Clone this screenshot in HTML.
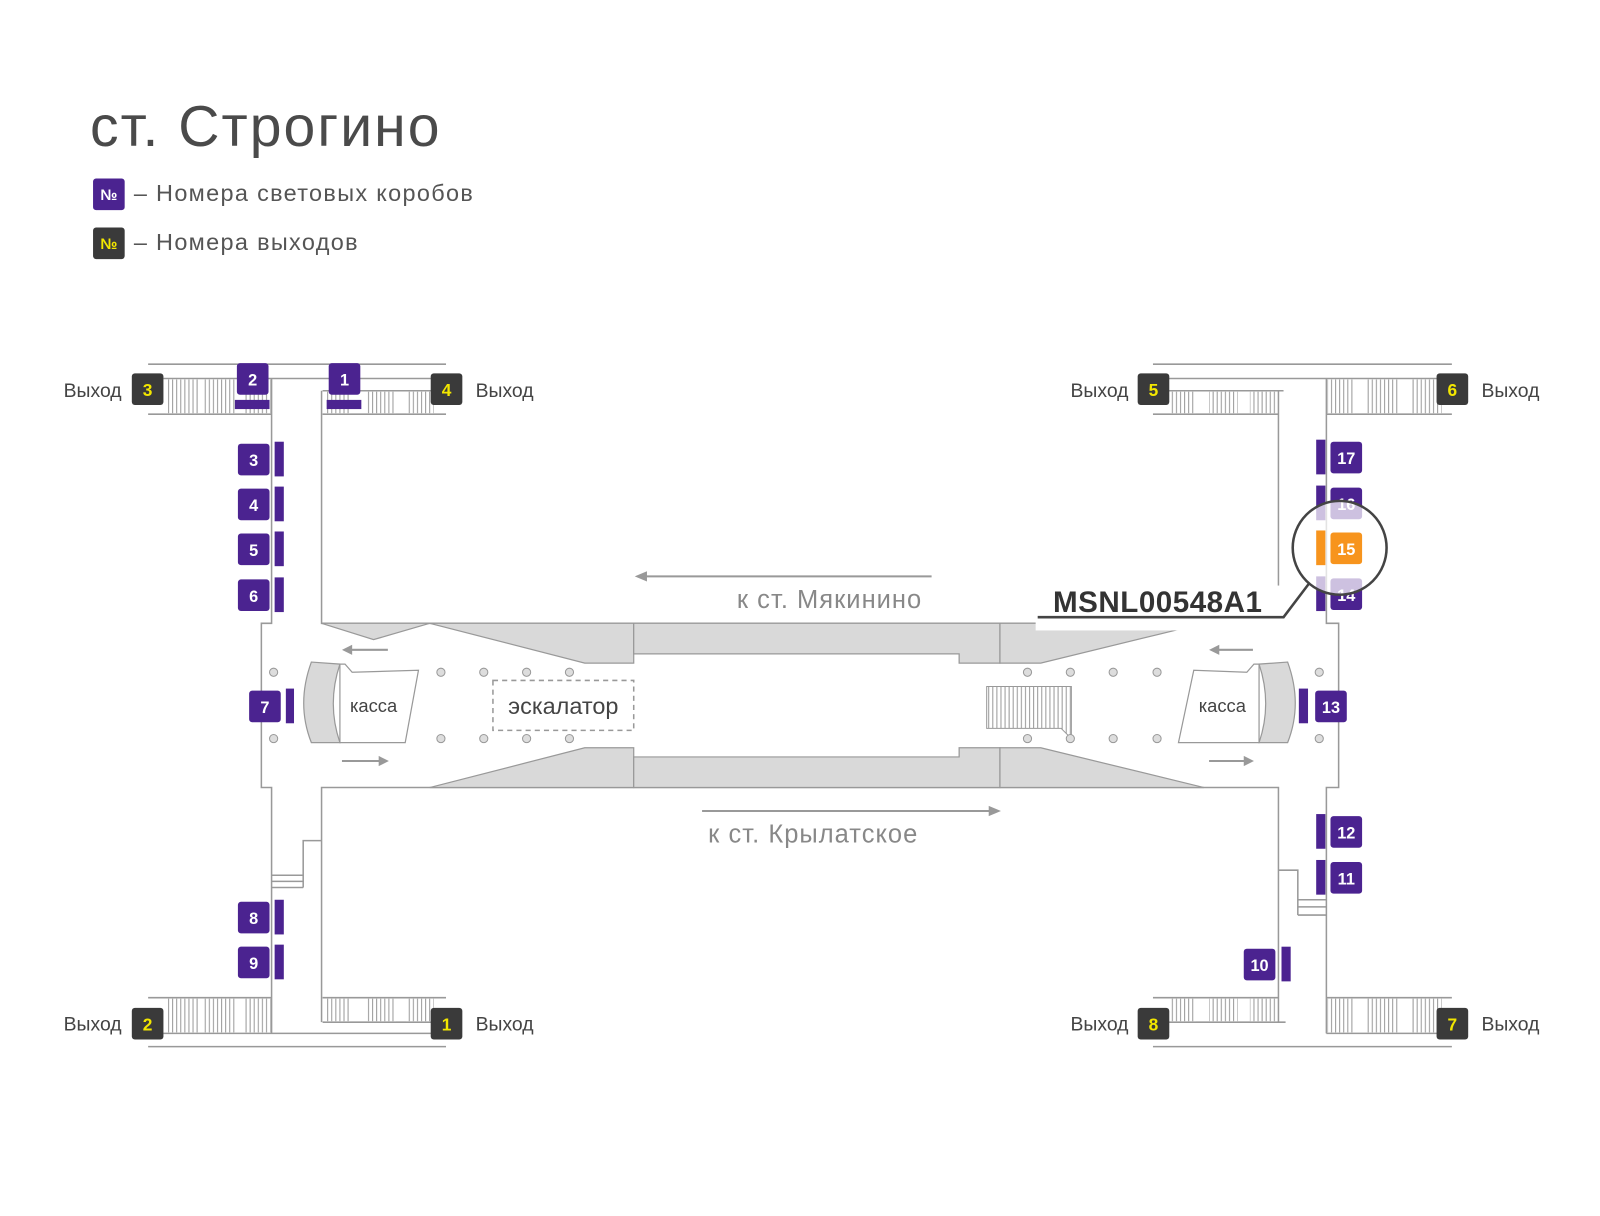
<!DOCTYPE html>
<html><head><meta charset="utf-8"><style>
html,body{margin:0;padding:0;background:#fff;}
svg{display:block;}
text{font-family:"Liberation Sans","DejaVu Sans",sans-serif;}
</style></head><body>
<svg width="1600" height="1216" viewBox="0 0 1568 1192" xmlns="http://www.w3.org/2000/svg">
<defs>
<pattern id="st" width="4" height="10" patternUnits="userSpaceOnUse"><rect width="4" height="10" fill="#fff"/><line x1="1" y1="0" x2="1" y2="10" stroke="#999" stroke-width="1"/></pattern>
</defs>
<rect width="1568" height="1192" fill="#fff"/>
<!-- title -->
<text x="88" y="143" font-size="56" fill="#4a4a4a" letter-spacing="2">ст. Строгино</text>
<rect x="91" y="175" width="31" height="31" rx="3" fill="#4b2390"/>
<text x="106.5" y="196" font-size="15" font-weight="bold" fill="#fff" text-anchor="middle">№</text>
<text x="131" y="197" font-size="23" fill="#555" letter-spacing="1.3">– Номера световых коробов</text>
<rect x="91" y="223" width="31" height="31" rx="3" fill="#3a3a3a"/>
<text x="106.5" y="244" font-size="15" font-weight="bold" fill="#f2e600" text-anchor="middle">№</text>
<text x="131" y="245" font-size="23" fill="#555" letter-spacing="1.3">– Номера выходов</text>

<g stroke="#999" stroke-width="1.5" fill="none">
<line x1="145" y1="357" x2="437" y2="357"/>
<line x1="160" y1="371" x2="437" y2="371"/>
<line x1="316" y1="383" x2="437" y2="383"/>
<line x1="145" y1="406" x2="266" y2="406"/>
<line x1="316" y1="406" x2="437" y2="406"/>
<line x1="145" y1="978" x2="266" y2="978"/>
<line x1="316" y1="978" x2="437" y2="978"/>
<line x1="316" y1="1002" x2="437" y2="1002"/>
<line x1="160" y1="1013" x2="437" y2="1013"/>
<line x1="145" y1="1026" x2="437" y2="1026"/>
<line x1="1130" y1="357" x2="1423" y2="357"/>
<line x1="1145" y1="371" x2="1423" y2="371"/>
<line x1="1130" y1="383" x2="1258" y2="383"/>
<line x1="1130" y1="406" x2="1253" y2="406"/>
<line x1="1300" y1="406" x2="1423" y2="406"/>
<line x1="1130" y1="978" x2="1253" y2="978"/>
<line x1="1300" y1="978" x2="1423" y2="978"/>
<line x1="1130" y1="1002" x2="1260" y2="1002"/>
<line x1="1300" y1="1013" x2="1420" y2="1013"/>
<line x1="1130" y1="1026" x2="1423" y2="1026"/>
<polyline points="266,371 266,611 256,611 256,772 266,772 266,1013"/>
<polyline points="315,383 315,611 1253,611 1253,383"/>
<polyline points="315,1002 315,772 1253,772 1253,1002"/>
<polyline points="1300,371 1300,611 1312,611 1312,772 1300,772 1300,1013"/>
<polyline points="315,824 297,824 297,870"/>
<line x1="266" y1="858" x2="297" y2="858"/><line x1="266" y1="864" x2="297" y2="864"/><line x1="266" y1="870" x2="297" y2="870"/>
<polyline points="1253,853 1272,853 1272,897"/>
<line x1="1272" y1="882" x2="1300" y2="882"/><line x1="1272" y1="889" x2="1300" y2="889"/><line x1="1272" y1="897" x2="1300" y2="897"/>
</g>
<g fill="url(#st)">
<rect x="162" y="372" width="32" height="33"/><rect x="200" y="372" width="30" height="33"/><rect x="238" y="372" width="27" height="33"/>
<rect x="318" y="384" width="25" height="21"/><rect x="360" y="384" width="28" height="21"/><rect x="398" y="384" width="27" height="21"/>
<rect x="162" y="979" width="32" height="33"/><rect x="200" y="979" width="30" height="33"/><rect x="238" y="979" width="27" height="33"/>
<rect x="318" y="979" width="25" height="22"/><rect x="360" y="979" width="28" height="22"/><rect x="398" y="979" width="27" height="22"/>
<rect x="1147" y="384" width="25" height="21"/><rect x="1185" y="384" width="28" height="21"/><rect x="1225" y="384" width="27" height="21"/>
<rect x="1301" y="372" width="27" height="33"/><rect x="1340" y="372" width="30" height="33"/><rect x="1383" y="372" width="30" height="33"/>
<rect x="1147" y="979" width="25" height="22"/><rect x="1185" y="979" width="28" height="22"/><rect x="1225" y="979" width="27" height="22"/>
<rect x="1301" y="979" width="27" height="33"/><rect x="1340" y="979" width="30" height="33"/><rect x="1383" y="979" width="30" height="33"/>
<polygon points="967,673 1050,673 1050,724 1040,714 967,714" stroke="#999" stroke-width="1"/>
</g>
<g fill="#d9d9d9" stroke="#999" stroke-width="1.2">
<polygon points="315,611 366,627 421,611"/>
<polygon points="421,611 621,611 621,650 573,650"/>
<polygon points="621,611 980,611 980,650 940,650 940,641 621,641"/>
<polygon points="980,611 1180,611 1020,650 980,650"/>
<polygon points="421,772 573,733 621,733 621,772"/>
<polygon points="621,742 940,742 940,733 980,733 980,772 621,772"/>
<polygon points="980,733 1020,733 1180,772 980,772"/>
<path d="M305 649 L333 651 Q320 690 333 728 L305 728 Q290 690 305 649Z"/>
<path d="M1262 649 L1234 651 Q1247 690 1234 728 L1262 728 Q1277 690 1262 649Z"/>
</g>
<g fill="#fff" stroke="#999" stroke-width="1.2">
<polygon points="333,651 338,651 345,659 410,657 397,728 333,728 Q320 690 333 651"/>
<polygon points="1234,651 1229,651 1222,659 1170,657 1155,728 1234,728 Q1247 690 1234 651"/>
</g>
<text x="366" y="698" font-size="18" fill="#444" text-anchor="middle">касса</text>
<text x="1198" y="698" font-size="18" fill="#444" text-anchor="middle">касса</text>
<g fill="#ddd" stroke="#999" stroke-width="1">
<circle cx="268" cy="659" r="4"/><circle cx="268" cy="724" r="4"/>
<circle cx="432" cy="659" r="4"/><circle cx="432" cy="724" r="4"/>
<circle cx="474" cy="659" r="4"/><circle cx="474" cy="724" r="4"/>
<circle cx="516" cy="659" r="4"/><circle cx="516" cy="724" r="4"/>
<circle cx="558" cy="659" r="4"/><circle cx="558" cy="724" r="4"/>
<circle cx="1007" cy="659" r="4"/><circle cx="1007" cy="724" r="4"/>
<circle cx="1049" cy="659" r="4"/><circle cx="1049" cy="724" r="4"/>
<circle cx="1091" cy="659" r="4"/><circle cx="1091" cy="724" r="4"/>
<circle cx="1134" cy="659" r="4"/><circle cx="1134" cy="724" r="4"/>
<circle cx="1293" cy="659" r="4"/><circle cx="1293" cy="724" r="4"/>
</g>
<rect x="483" y="667" width="138" height="49" fill="none" stroke="#999" stroke-width="1.5" stroke-dasharray="5,4"/>
<text x="552" y="700" font-size="23" fill="#444" text-anchor="middle">эскалатор</text>
<g stroke="#999" stroke-width="2" fill="#999">
<line x1="340" y1="637" x2="380" y2="637"/><polygon points="335,637 345,632 345,642" stroke="none"/>
<line x1="335" y1="746" x2="375" y2="746"/><polygon points="381,746 371,741 371,751" stroke="none"/>
<line x1="1190" y1="637" x2="1228" y2="637"/><polygon points="1185,637 1195,632 1195,642" stroke="none"/>
<line x1="1185" y1="746" x2="1223" y2="746"/><polygon points="1229,746 1219,741 1219,751" stroke="none"/>
<line x1="630" y1="565" x2="913" y2="565"/><polygon points="622,565 634,560 634,570" stroke="none"/>
<line x1="688" y1="795" x2="972" y2="795"/><polygon points="981,795 969,790 969,800" stroke="none"/>
</g>
<text x="813" y="596" font-size="25" fill="#888" text-anchor="middle" letter-spacing="1">к ст. Мякинино</text>
<text x="797" y="826" font-size="25" fill="#888" text-anchor="middle" letter-spacing="1">к ст. Крылатское</text>

<g font-size="19" fill="#444">
<text x="119" y="389" text-anchor="end">Выход</text>
<text x="466" y="389">Выход</text>
<text x="1106" y="389" text-anchor="end">Выход</text>
<text x="1452" y="389">Выход</text>
<text x="119" y="1010" text-anchor="end">Выход</text>
<text x="466" y="1010">Выход</text>
<text x="1106" y="1010" text-anchor="end">Выход</text>
<text x="1452" y="1010">Выход</text>
</g>
<g fill="#3a3a3a">
<rect x="129" y="366" width="31" height="31" rx="3"/><rect x="422" y="366" width="31" height="31" rx="3"/>
<rect x="1115" y="366" width="31" height="31" rx="3"/><rect x="1408" y="366" width="31" height="31" rx="3"/>
<rect x="129" y="988" width="31" height="31" rx="3"/><rect x="422" y="988" width="31" height="31" rx="3"/>
<rect x="1115" y="988" width="31" height="31" rx="3"/><rect x="1408" y="988" width="31" height="31" rx="3"/>
</g>
<g font-size="17" font-weight="bold" fill="#f2e600" text-anchor="middle">
<text x="144.5" y="388">3</text><text x="437.5" y="388">4</text><text x="1130.5" y="388">5</text><text x="1423.5" y="388">6</text>
<text x="144.5" y="1010">2</text><text x="437.5" y="1010">1</text><text x="1130.5" y="1010">8</text><text x="1423.5" y="1010">7</text>
</g>

<g fill="#4b2390">
<rect x="232" y="356" width="31" height="31" rx="3"/><rect x="230" y="392" width="34" height="9"/>
<rect x="322" y="356" width="31" height="31" rx="3"/><rect x="320" y="392" width="34" height="9"/>
<rect x="233" y="435" width="31" height="31" rx="3"/><rect x="269" y="433" width="9" height="34"/>
<rect x="233" y="479" width="31" height="31" rx="3"/><rect x="269" y="477" width="9" height="34"/>
<rect x="233" y="523" width="31" height="31" rx="3"/><rect x="269" y="521" width="9" height="34"/>
<rect x="233" y="568" width="31" height="31" rx="3"/><rect x="269" y="566" width="9" height="34"/>
<rect x="244" y="677" width="31" height="31" rx="3"/><rect x="280" y="675" width="8" height="34"/>
<rect x="233" y="884" width="31" height="31" rx="3"/><rect x="269" y="882" width="9" height="34"/>
<rect x="233" y="928" width="31" height="31" rx="3"/><rect x="269" y="926" width="9" height="34"/>
<rect x="1304" y="433" width="31" height="31" rx="3"/><rect x="1290" y="431" width="9" height="34"/>
<rect x="1304" y="478" width="31" height="31" rx="3"/><rect x="1290" y="476" width="9" height="34"/>
<rect x="1304" y="567" width="31" height="31" rx="3"/><rect x="1290" y="565" width="9" height="34"/>
<rect x="1289" y="677" width="31" height="31" rx="3"/><rect x="1273" y="675" width="9" height="34"/>
<rect x="1304" y="800" width="31" height="31" rx="3"/><rect x="1290" y="798" width="9" height="34"/>
<rect x="1304" y="845" width="31" height="31" rx="3"/><rect x="1290" y="843" width="9" height="34"/>
<rect x="1219" y="930" width="31" height="31" rx="3"/><rect x="1256" y="928" width="9" height="34"/>
</g>
<g font-size="16" font-weight="bold" fill="#fff" text-anchor="middle">
<text x="247.5" y="378">2</text><text x="337.5" y="378">1</text>
<text x="248.5" y="457">3</text><text x="248.5" y="501">4</text><text x="248.5" y="545">5</text><text x="248.5" y="590">6</text>
<text x="259.5" y="699">7</text><text x="248.5" y="906">8</text><text x="248.5" y="950">9</text>
<text x="1319.5" y="455">17</text><text x="1319.5" y="500">16</text><text x="1319.5" y="589">14</text>
<text x="1304.5" y="699">13</text><text x="1319.5" y="822">12</text><text x="1319.5" y="867">11</text><text x="1234.5" y="952">10</text>
</g>
<circle cx="1313" cy="537" r="46" fill="#fff" fill-opacity="0.72"/>
<rect x="1304" y="522" width="31" height="31" rx="3" fill="#f7941d"/><rect x="1290" y="520" width="9" height="34" fill="#f7941d"/>
<text x="1319.5" y="544" font-size="16" font-weight="bold" fill="#fff" text-anchor="middle">15</text>
<circle cx="1313" cy="537" r="46" fill="none" stroke="#444" stroke-width="2.5"/>
<rect x="1015" y="574" width="240" height="44" fill="#fff"/>
<polyline points="1017,605 1258,605 1283,572" fill="none" stroke="#444" stroke-width="2.5"/>
<text x="1032" y="600" font-size="29" font-weight="bold" fill="#333" letter-spacing="0.5">MSNL00548A1</text>
</svg>
</body></html>
